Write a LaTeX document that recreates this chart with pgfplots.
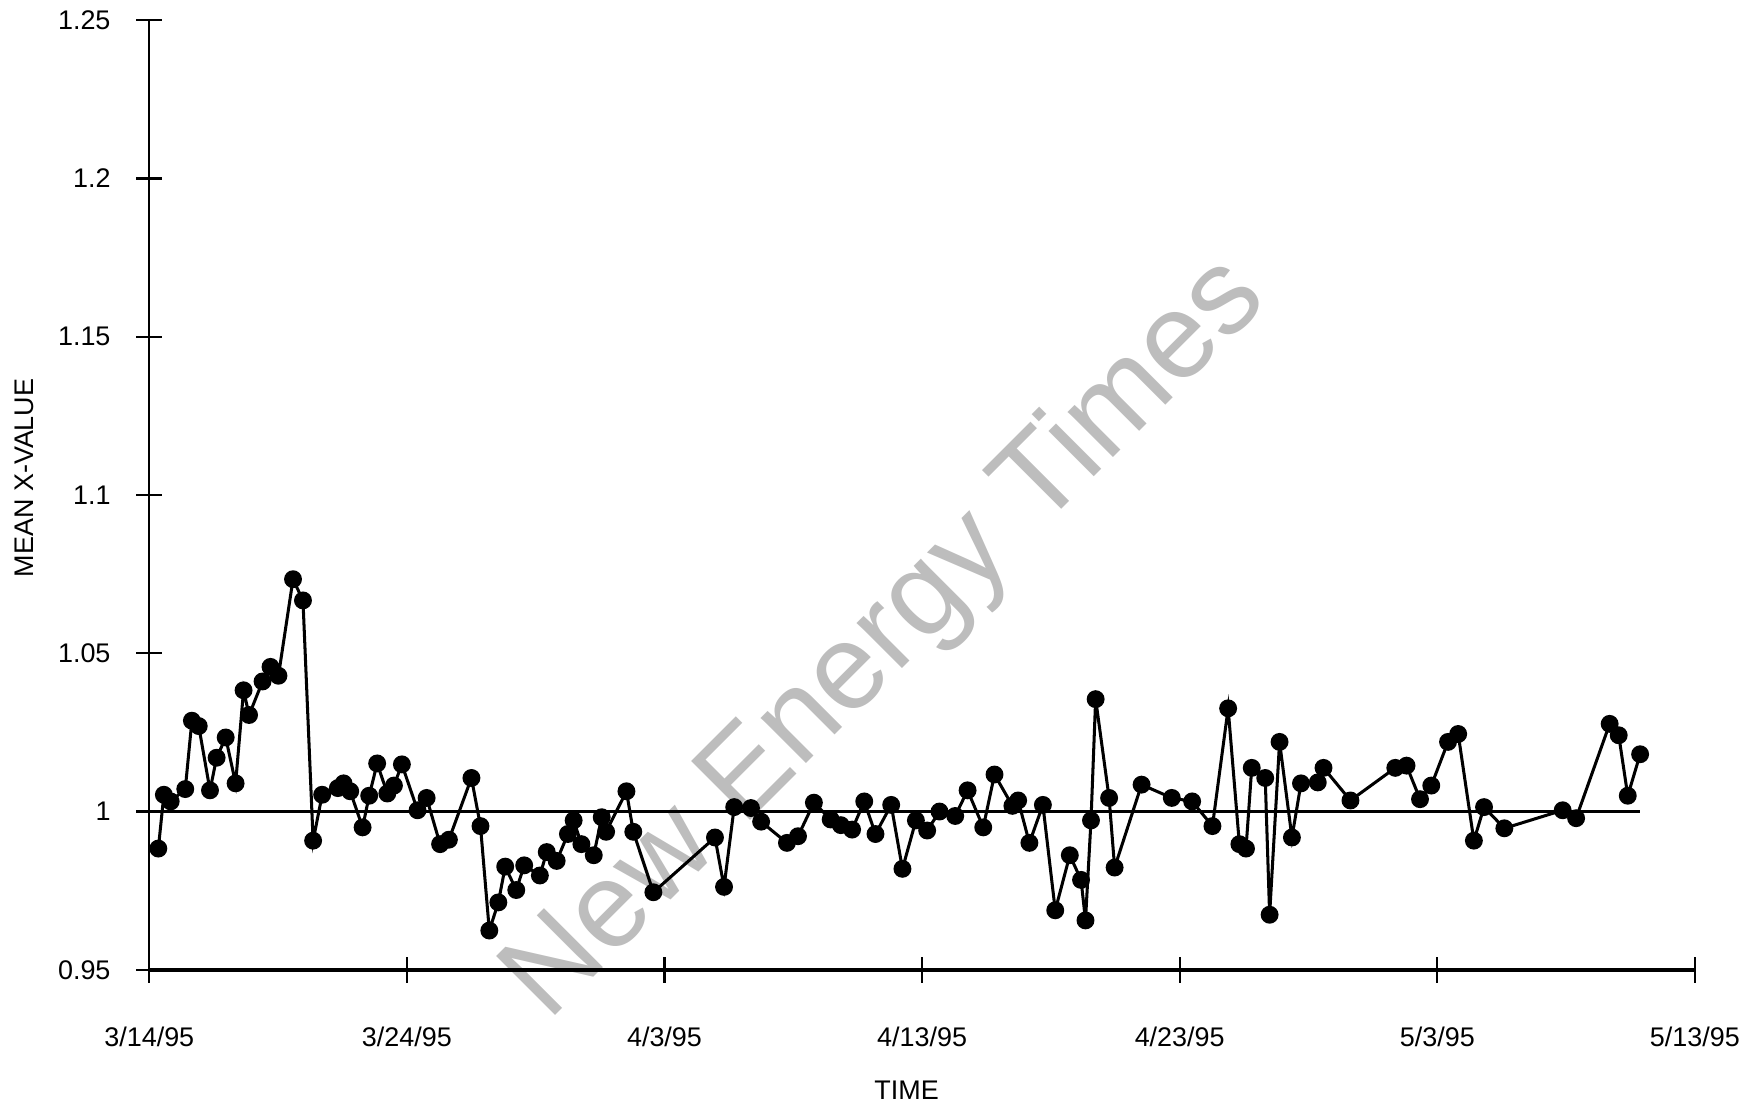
\documentclass[border=0pt]{standalone}
\usepackage{fontspec}
\setmainfont{Liberation Sans}
\usepackage{pgfplots}
\pgfplotsset{compat=1.18}
\begin{document}
\begin{tikzpicture}
\begin{axis}[
  name=ax,
  set layers,
  scale only axis,
  width=688.5pt, height=423pt,
  xmin=0, xmax=60, ymin=0.95, ymax=1.25,
  axis lines*=left,
  axis line style={line width=1pt, black},
  x axis line style={line width=1.6pt},
  xtick={0,10,...,60},
  xticklabels={3/14/95,3/24/95,4/3/95,4/13/95,4/23/95,5/3/95,5/13/95},
  ytick={0.95,1,1.05,1.1,1.15,1.2,1.25},
  yticklabels={0.95,1,1.05,1.1,1.15,1.2,1.25},
  tick align=center,
  major tick length=11.5pt,
  tick style={line width=1pt, black},
  every tick label/.append style={font=\fontsize{12}{14}\selectfont},
  xticklabel style={yshift=-16pt},
  yticklabel style={xshift=-8pt},
  xlabel={TIME}, ylabel={MEAN X-VALUE},
  every axis x label/.style={at={(rel axis cs:0.49,0)}, anchor=center, yshift=-53.5pt, font=\fontsize{12}{14}\selectfont},
  every axis y label/.style={at={(rel axis cs:0,0.518)}, xshift=-55.5pt, rotate=90, anchor=center, font=\fontsize{12}{14}\selectfont},
  clip=false,
]
\begin{pgfonlayer}{axis background}
\node[rotate=45, text=black!26, font=\fontsize{54}{60}\selectfont] at (axis cs:28.63,1.0543) {New Energy Times};
\end{pgfonlayer}
\addplot[black, line width=1.35pt, forget plot] coordinates {(0,1) (57.874,1)};
\addplot[black, line width=1.35pt, mark=*, mark size=3.3pt, mark options={solid}] coordinates {
(0.351,0.9883) (0.566,1.0053) (0.831,1.0032) (1.397,1.0071) (1.654,1.0287) (1.920,1.0270)
(2.357,1.0067) (2.614,1.0170) (2.966,1.0234) (3.351,1.0089) (3.660,1.0383) (3.874,1.0305)
(4.397,1.0411) (4.706,1.0457) (5.014,1.0429) (5.580,1.0734) (5.966,1.0667) (6.360,0.9908)
(6.711,1.0053) (7.320,1.0074) (7.543,1.0089) (7.800,1.0064) (8.280,0.9950) (8.537,1.0050)
(8.846,1.0152) (9.240,1.0057) (9.497,1.0082) (9.806,1.0149) (10.414,1.0004) (10.766,1.0043)
(11.289,0.9897) (11.631,0.9911) (12.506,1.0106) (12.857,0.9954) (13.200,0.9624) (13.551,0.9713)
(13.817,0.9826) (14.246,0.9752) (14.554,0.9830) (15.163,0.9798) (15.429,0.9872) (15.814,0.9844)
(16.251,0.9929) (16.474,0.9972) (16.774,0.9897) (17.254,0.9862) (17.563,0.9982) (17.734,0.9936)
(18.523,1.0064) (18.789,0.9936) (19.569,0.9745) (21.960,0.9918) (22.311,0.9762) (22.706,1.0014)
(23.357,1.0011) (23.751,0.9968) (24.754,0.9901) (25.183,0.9922) (25.800,1.0028) (26.451,0.9975)
(26.846,0.9957) (27.283,0.9943) (27.754,1.0032) (28.191,0.9929) (28.800,1.0021) (29.237,0.9819)
(29.760,0.9972) (30.197,0.9940) (30.677,1.0000) (31.286,0.9986) (31.766,1.0067) (32.374,0.9950)
(32.811,1.0117) (33.506,1.0018) (33.729,1.0035) (34.166,0.9901) (34.689,1.0021) (35.169,0.9688)
(35.734,0.9862) (36.171,0.9784) (36.343,0.9656) (36.557,0.9972) (36.737,1.0355) (37.260,1.0043)
(37.474,0.9823) (38.520,1.0085) (39.694,1.0043) (40.483,1.0032) (41.271,0.9954) (41.880,1.0326)
(42.317,0.9897) (42.574,0.9883) (42.797,1.0138) (43.320,1.0106) (43.491,0.9674) (43.877,1.0220)
(44.357,0.9918) (44.709,1.0089) (45.360,1.0092) (45.583,1.0138) (46.629,1.0035) (48.369,1.0138)
(48.806,1.0145) (49.329,1.0039) (49.766,1.0082) (50.417,1.0220) (50.811,1.0245) (51.420,0.9908)
(51.814,1.0014) (52.603,0.9947) (54.866,1.0004) (55.389,0.9979) (56.691,1.0277) (57.043,1.0241)
(57.394,1.0050) (57.874,1.0181)
};
\end{axis}
\pgfresetboundingbox
\path ([shift={(-66.5pt,-61.5pt)}]ax.south west) rectangle ([shift={(717.5pt,432pt)}]ax.south west);
\end{tikzpicture}
\end{document}
